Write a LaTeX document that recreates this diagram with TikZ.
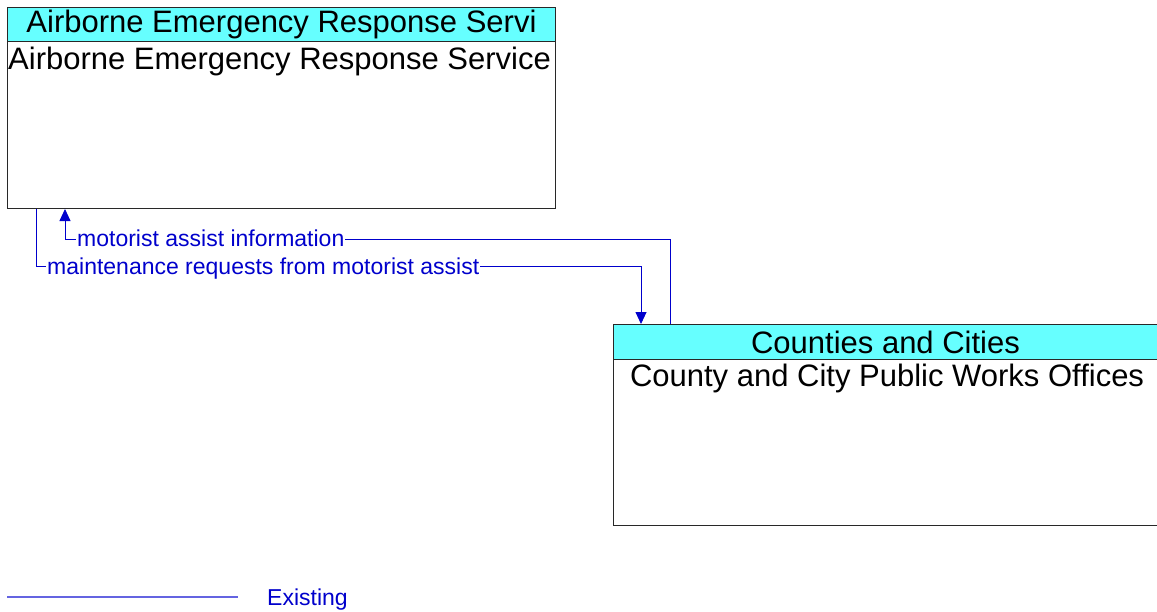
\documentclass[tikz,border=0pt]{standalone}
\usepackage{fontspec}
\setmainfont{Liberation Sans}
\usetikzlibrary{arrows.meta,calc}
\definecolor{hdrfill}{RGB}{102,255,255}
\definecolor{flowblue}{RGB}{0,0,204}
\definecolor{legendblue}{RGB}{100,100,225}
\definecolor{edgegray}{RGB}{40,40,40}
\begin{document}
\begin{tikzpicture}[x=1pt,y=-1pt,
  entity/.style={draw=edgegray, line width=1pt, fill=white, anchor=north west, inner sep=0pt},
  header/.style={draw=edgegray, line width=1pt, fill=hdrfill, anchor=north west, inner sep=0pt,
    font=\fontsize{31}{31}\selectfont},
  bodytext/.style={inner sep=0pt, font=\fontsize{31}{31}\selectfont},
  flow/.style={draw=flowblue, line width=0.9pt, -{Triangle[width=11pt,length=12pt]}},
  flowlabel/.style={inner sep=1pt, fill=white, text=flowblue, font=\fontsize{23}{23}\selectfont}]
\useasboundingbox (0,0) rectangle (1157,611);

% Airborne Emergency Response Service
\node[entity, minimum width=548pt, minimum height=201pt] (aer) at (7,7) {};
\node[header, minimum width=548pt, minimum height=34pt] (aerh) at (aer.north west) {Airborne Emergency Response Servi};
\node[bodytext, anchor=base west] (aert) at (8,69) {Airborne Emergency Response Service};

% County and City Public Works Offices
\node[entity, minimum width=544pt, minimum height=201pt] (ccp) at (613,324) {};
\node[header, minimum width=544pt, minimum height=35pt] (ccph) at (ccp.north west) {Counties and Cities};
\node[bodytext, anchor=base] (ccpt) at (887,386) {County and City Public Works Offices};

% motorist assist information
\coordinate (mai1) at ($(ccp.north west)+(57,0)$);
\coordinate (mai2) at ($(aer.south west)+(58,0)$);
\draw[flow] (mai1) |- ($(mai2)+(0,30)$) -- (mai2);
\node[flowlabel, anchor=base west] (mail) at (76,246) {motorist assist information};

% maintenance requests from motorist assist
\coordinate (mrm1) at ($(aer.south west)+(29,0)$);
\coordinate (mrm2) at ($(ccp.north west)+(28,0)$);
\draw[flow] (mrm1) |- ($(mrm2)+(0,-58)$) -- (mrm2);
\node[flowlabel, anchor=base west] (mrml) at (46,274) {maintenance requests from motorist assist};

% legend
\coordinate (lega) at (7,597);
\coordinate (legb) at (238,597);
\draw[legendblue, line width=1.3pt] (lega) -- (legb);
\node[flowlabel, anchor=base west] (legt) at (266,605) {Existing};
\end{tikzpicture}
\end{document}
